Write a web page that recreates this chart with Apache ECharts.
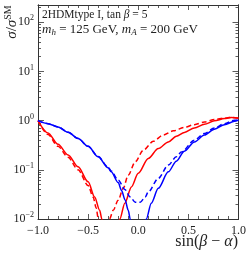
<!DOCTYPE html>
<html><head><meta charset="utf-8">
<script src="https://cdn.jsdelivr.net/npm/echarts@6/dist/echarts.min.js"></script>
<style>html,body{margin:0;padding:0;background:#fff}#c{width:249px;height:254px}</style>
</head><body><div id="c"></div>
<script>
// ---- data (null = curve leaves the plotted range) ----
const xRedSolid  = [-1.0,-0.9,-0.8,-0.7,-0.6,-0.5,-0.435,-0.385,-0.363,-0.35, null, -0.2,-0.184,-0.134,-0.068,0.0,0.1,0.2,0.3,0.38,0.46,0.56,0.66,0.76,0.86,0.93,1.0];
const yRedSolid  = [1.0,0.56,0.33,0.20,0.115,0.057,0.028,0.015,0.01,0.007, null, 0.007,0.01,0.021,0.045,0.085,0.17,0.27,0.37,0.48,0.574,0.71,0.845,0.99,1.10,1.16,1.12];
const xRedDash   = [-1.0,-0.9,-0.8,-0.7,-0.6,-0.5,-0.45,-0.42,-0.40,-0.39, null, -0.30,-0.287,-0.25,-0.2,-0.15,-0.1,-0.03,0.05,0.15,0.25,0.35,0.46,0.56,0.66,0.76,0.86,0.93,1.0];
const yRedDash   = [1.0,0.52,0.30,0.18,0.10,0.048,0.028,0.017,0.0105,0.008, null, 0.007,0.01,0.015,0.024,0.042,0.078,0.145,0.25,0.38,0.51,0.62,0.73,0.83,0.94,1.05,1.13,1.17,1.13];
const xBlueSolid = [-1.0,-0.9,-0.8,-0.7,-0.6,-0.5,-0.4,-0.3,-0.27,-0.2,-0.167,-0.13,-0.1,-0.08,-0.06, null, 0.06,0.08,0.13,0.2,0.3,0.38,0.46,0.56,0.66,0.76,0.86,0.96,1.0];
const yBlueSolid = [1.0,0.87,0.745,0.58,0.434,0.30,0.184,0.11,0.091,0.055,0.038,0.024,0.015,0.01,0.006, null, 0.006,0.01,0.021,0.042,0.091,0.15,0.24,0.37,0.51,0.67,0.83,0.97,1.03];
const xBlueDash  = [-1.0,-0.9,-0.8,-0.7,-0.6,-0.5,-0.4,-0.3,-0.27,-0.2,-0.134,-0.08,-0.03,0.02,0.07,0.098,0.2,0.3,0.38,0.43,0.56,0.66,0.76,0.86,0.96,1.0];
const yBlueDash  = [1.0,0.87,0.745,0.58,0.434,0.30,0.186,0.113,0.095,0.062,0.040,0.028,0.022,0.022,0.028,0.035,0.067,0.125,0.184,0.23,0.40,0.55,0.71,0.87,1.02,1.05];
const xTicks = [-1.0,-0.5,0.0,0.5,1.0];
const yDecades = [-2,-1,0,1,2];
const yMin = 0.01, yMax = 225;

const pairs = (xs, ys) => xs.map((x, i) => (x === null ? ['-', '-'] : [x, ys[i]]));
const SERIF = '"Liberation Serif", "DejaVu Serif", serif';
const INK = '#222';
const logTop = Math.log10(yMax);
const minorVals = [];
for (let d = -2; d < 3; d++) for (let k = 2; k <= 9; k++) { const v = d + Math.log10(k); if (v < logTop) minorVals.push(v); }

const chart = echarts.init(document.getElementById('c'), null, {renderer: 'canvas'});
const fmtX = v => (v < 0 ? '\u2212' + (-v).toFixed(1) : v.toFixed(1));
const fmtY = v => { const e = Math.round(v); return '{b|10}{s|' + (e < 0 ? '\u2212' + (-e) : e) + '}'; };
const frame = {show: true, onZero: false, lineStyle: {color: '#333', width: 1}};
const tickAxis = (pos, vals, len, labels) => ({
  type: 'value', gridIndex: 0, position: pos, min: -2, max: logTop,
  axisLine: frame,
  axisTick: {show: true, inside: true, length: len, customValues: vals, lineStyle: {color: '#333', width: 0.8}},
  axisLabel: labels ? {show: true, customValues: yDecades, formatter: fmtY, margin: 4, color: INK,
    rich: {b: {fontSize: 12, fontFamily: SERIF, color: INK}, s: {fontSize: 8, fontFamily: SERIF, color: INK, padding: [0, 0, 8, 0]}}} : {show: false},
  splitLine: {show: false}
});
const xAx = (pos, labels) => ({
  type: 'value', position: pos, min: -1, max: 1, interval: 0.5,
  axisLine: frame,
  axisTick: {show: true, inside: true, length: 5, lineStyle: {color: '#333', width: 0.8}},
  minorTick: {show: true, splitNumber: 5, length: 3, lineStyle: {color: '#333', width: 0.8}},
  axisLabel: labels ? {show: true, customValues: xTicks, formatter: fmtX, fontSize: 12, fontFamily: SERIF, color: INK, margin: 6} : {show: false},
  splitLine: {show: false}, minorSplitLine: {show: false}
});
const line = (data, color, dashed) => ({
  type: 'line', data, xAxisIndex: 0, yAxisIndex: 0, showSymbol: false, symbol: 'none',
  smooth: 0.3, smoothMonotone: 'x', clip: true, connectNulls: false, silent: true, animation: false,
  lineStyle: {color, width: 1.5, type: dashed ? [5, 3] : 'solid'}
});

chart.setOption({
  animation: false,
  backgroundColor: '#fff',
  grid: {left: 38, right: 10, top: 5, bottom: 35, containLabel: false},
  xAxis: [xAx('bottom', true), xAx('top', false)],
  yAxis: [
    {type: 'log', logBase: 10, min: yMin, max: yMax, show: false},
    tickAxis('left', yDecades, 6, true),
    tickAxis('left', minorVals, 3, false),
    tickAxis('right', yDecades, 6, false),
    tickAxis('right', minorVals, 3, false)
  ],
  series: [
    line(pairs(xRedSolid, yRedSolid), '#ff0000', false),
    line(pairs(xRedDash, yRedDash), '#ff0000', true),
    line(pairs(xBlueSolid, yBlueSolid), '#0000ff', false),
    line(pairs(xBlueDash, yBlueDash), '#0000ff', true)
  ],
  graphic: [
    {type: 'text', x: 42, y: 9, silent: true, style: {
      text: '{r|2HDMtype I, tan }{i|\u03b2}{r| = 5}',
      rich: {r: {fontSize: 11.5, fontFamily: SERIF, fill: INK}, i: {fontSize: 11.5, fontFamily: SERIF, fontStyle: 'italic', fill: INK}}}},
    {type: 'text', x: 42, y: 22, silent: true, style: {
      text: '{i|m}{sb|h}{r| = 125 GeV, }{i|m}{sb|A}{r| = 200 GeV}',
      rich: {r: {fontSize: 13, fontFamily: SERIF, fill: INK}, i: {fontSize: 13, fontFamily: SERIF, fontStyle: 'italic', fill: INK},
             sb: {fontSize: 9, fontFamily: SERIF, fontStyle: 'italic', fill: INK, padding: [6, 0, 0, 0]}}}},
    {type: 'text', x: 238, y: 242, silent: true, style: {
      text: '{r|sin(}{i|\u03b2}{r| \u2212 }{i|\u03b1}{r|)}', align: 'right', verticalAlign: 'middle',
      rich: {r: {fontSize: 16, fontFamily: SERIF, fill: INK}, i: {fontSize: 16, fontFamily: SERIF, fontStyle: 'italic', fill: INK}}}},
    {type: 'text', x: 12, y: 22, rotation: Math.PI / 2, silent: true, style: {
      text: '{i|\u03c3}{r|/}{i|\u03c3}{s|SM}', align: 'center', verticalAlign: 'middle',
      rich: {r: {fontSize: 15, fontFamily: SERIF, fill: INK}, i: {fontSize: 15, fontFamily: SERIF, fontStyle: 'italic', fill: INK},
             s: {fontSize: 10, fontFamily: SERIF, fill: INK, padding: [0, 0, 8, 0]}}}}
  ]
});
</script></body></html>
